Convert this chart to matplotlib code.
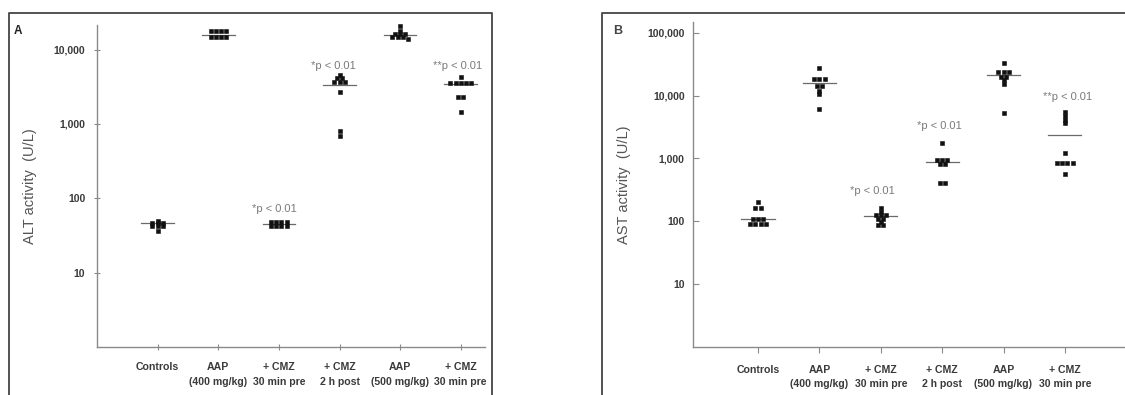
import numpy as np
import matplotlib
matplotlib.use("Agg")
import matplotlib.pyplot as plt
from matplotlib.lines import Line2D

# --------------------------
# Data
# --------------------------
CATEGORIES = ["Controls", "AAP\n(400 mg/kg)", "+ CMZ\n30 min pre",
              "+ CMZ\n2 h post", "AAP\n(500 mg/kg)", "+ CMZ\n30 min pre"]

# Panel A: ALT activity (U/L)
alt_controls = [50, 46, 46, 46, 42, 42, 42, 36]
alt_aap400 = [17500, 17500, 17500, 17500, 14800, 14800, 14800, 14800]
alt_cmz_pre = [48, 48, 48, 48, 42, 42, 42, 42]
alt_cmz_post = [4600, 4100, 4100, 3700, 3700, 3700, 2700, 800, 680]
alt_aap500 = [20500, 17500, 16000, 16000, 16000, 14600, 14600, 14600, 14000]
alt_cmz_pre500 = [4300, 3600, 3600, 3600, 3600, 3600, 2300, 2300, 1450]
alt_means = [46, 15900, 45, 3300, 15600, 3400]

# Panel B: AST activity (U/L)
ast_controls = [205, 165, 160, 110, 110, 110, 90, 90, 90, 90]
ast_aap400 = [27500, 18500, 18500, 18500, 14000, 14000, 12000, 10500, 6200]
ast_cmz_pre = [160, 140, 125, 125, 125, 110, 110, 97, 86, 86]
ast_cmz_post = [1730, 930, 930, 930, 810, 810, 400, 400]
ast_aap500 = [33000, 24000, 24000, 24000, 20000, 20000, 17500, 15500, 5200]
ast_cmz_pre500 = [5400, 4700, 4100, 3600, 1200, 850, 850, 850, 850, 560]
ast_means = [108, 16000, 123, 880, 21000, 2400]

# significance labels: (category index, value, text)
alt_pvals = [(1.93, 71, "*p < 0.01"), (2.9, 5960, "*p < 0.01"), (4.95, 5960, "**p < 0.01")]
ast_pvals = [(1.87, 300, "*p < 0.01"), (2.96, 3230, "*p < 0.01"), (5.05, 9600, "**p < 0.01")]

ALT_TICKS = [10, 100, 1000, 10000]
AST_TICKS = [10, 100, 1000, 10000, 100000]

W, H = 1125, 395
TEXT = "#3a3a3a"
plt.rcParams["font.family"] = ["Liberation Sans", "DejaVu Sans"]


def swarm_offsets(values, tol, dx):
    """spread points that sit at about the same height side by side"""
    logs = np.log10(values)
    order = np.argsort(-logs)
    offs = np.zeros(len(values))
    rows = []
    for i in order:
        if rows and abs(logs[rows[-1][0]] - logs[i]) < tol:
            rows[-1].append(i)
        else:
            rows.append([i])
    for row in rows:
        n = len(row)
        for k, i in enumerate(row):
            offs[i] = (k - (n - 1) / 2) * dx
    return offs


def px_axes(fig, x0, x1, ytop, ybot):
    return fig.add_axes([x0 / W, 1 - ybot / H, (x1 - x0) / W, (ybot - ytop) / H])


def draw_panel(ax, groups, means, pvals, ticks, ylim, xlim, ylabel):
    for i, vals in enumerate(groups):
        offs = swarm_offsets(vals, 0.02, 0.085)
        ax.plot(i + offs, vals, "s", ms=2.3, color="#111111", mec="#111111",
                mew=0.4, clip_on=False, zorder=3)
        ax.plot([i - 0.27, i + 0.27], [means[i], means[i]], color="#6a6a6a",
                lw=0.9, zorder=2)
    for x, y, t in pvals:
        ax.text(x, y, t, ha="center", va="center", fontsize=8, color="#7a7a7a")

    ax.set_yscale("log")
    ax.set_ylim(*ylim)
    ax.set_xlim(*xlim)
    ax.set_yticks(ticks)
    ax.set_yticklabels([f"{t:,}" for t in ticks], fontsize=7.5,
                       fontweight="bold", color=TEXT)
    ax.yaxis.set_minor_locator(matplotlib.ticker.NullLocator())
    ax.set_xticks(range(len(CATEGORIES)))
    ax.set_xticklabels(CATEGORIES, fontsize=7.6, fontweight="bold",
                       color=TEXT, linespacing=1.55)
    ax.set_ylabel(ylabel, fontsize=10.5, color="#555555", labelpad=12)
    for side in ["top", "right"]:
        ax.spines[side].set_visible(False)
    for side in ["left", "bottom"]:
        ax.spines[side].set_color("#8a8a8a")
        ax.spines[side].set_linewidth(1.0)
    ax.tick_params(axis="both", colors="#8a8a8a", length=3, width=0.8)
    ax.tick_params(axis="x", pad=9)
    ax.tick_params(axis="y", pad=6)
    for lbl in ax.get_xticklabels() + ax.get_yticklabels():
        lbl.set_color(TEXT)


fig = plt.figure(figsize=(W / 100, H / 100), dpi=100)
fig.patch.set_facecolor("white")

# panel frames
frame_kw = dict(color="#444444", lw=1.3, transform=fig.transFigure)
fig.add_artist(Line2D([9 / W, 9 / W, 492 / W, 492 / W],
                      [0, 1 - 13 / H, 1 - 13 / H, 0], **frame_kw))
fig.add_artist(Line2D([602 / W, 602 / W, 1.0],
                      [0, 1 - 13 / H, 1 - 13 / H], **frame_kw))
fig.text(14 / W, 1 - 31 / H, "A", fontsize=8.5, fontweight="bold", color="#222222",
         va="center")
fig.text(613 / W, 1 - 31 / H, "B", fontsize=9, fontweight="bold", color="#444444",
         va="center")

# Panel A
axA = px_axes(fig, 97, 485, 25, 347)
draw_panel(axA,
           [alt_controls, alt_aap400, alt_cmz_pre, alt_cmz_post, alt_aap500, alt_cmz_pre500],
           alt_means, alt_pvals, ALT_TICKS, (1, 10 ** 4.33), (-1.0, 5.4),
           "ALT activity  (U/L)")
axA.tick_params(axis="y", direction="inout", length=5)
axA.tick_params(axis="x", direction="inout", length=4)

# Panel B
axB = px_axes(fig, 693, 1125, 22, 347)
draw_panel(axB,
           [ast_controls, ast_aap400, ast_cmz_pre, ast_cmz_post, ast_aap500, ast_cmz_pre500],
           ast_means, ast_pvals, AST_TICKS, (1, 10 ** 5.17), (-1.06, 5.98),
           "AST activity  (U/L)")
axB.tick_params(axis="y", direction="in", length=4)
axB.tick_params(axis="x", direction="out", length=4)

fig.savefig("out.png", dpi=100, facecolor="white")
